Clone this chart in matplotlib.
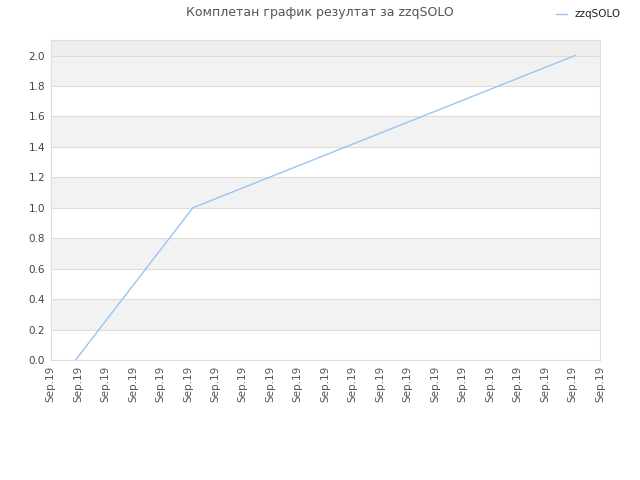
import matplotlib
matplotlib.use("Agg")
import matplotlib.pyplot as plt

title = "Комплетан график резултат за zzqSOLO"
series_name = "zzqSOLO"
x_vals = [0.91, 5.18, 19.09]
y_vals = [0.0, 1.0, 2.0]
x_ticks = list(range(21))
x_labels = ["Sep.19"] * 21
y_ticks = [0.0, 0.2, 0.4, 0.6, 0.8, 1.0, 1.2, 1.4, 1.6, 1.8, 2.0]

fig = plt.figure(figsize=(6.4, 4.8), dpi=100)
ax = fig.add_axes([0.079, 0.25, 0.8585, 0.666])
ax.set_xlim(0, 20)
ax.set_ylim(0, 2.1)

# alternating bands
for i in range(len(y_ticks) - 1):
    if i % 2 == 1:
        ax.axhspan(y_ticks[i], y_ticks[i + 1], color="#f2f2f2", zorder=0, lw=0)
ax.axhspan(2.0, 2.1, color="#eeeeee", zorder=0, lw=0)
for yv in y_ticks:
    ax.axhline(yv, color="#dddddd", lw=0.8, zorder=1)

ax.plot(x_vals, y_vals, color="#99c5f2", lw=1.0, zorder=3, label=series_name)

ax.set_xticks(x_ticks)
ax.set_xticklabels(x_labels, rotation=90, fontsize=7.5, color="#555555")
ax.set_yticks(y_ticks)
ax.set_yticklabels([f"{v:.1f}" for v in y_ticks], fontsize=7.5, color="#444444")
ax.tick_params(length=0, pad=4)
for s in ax.spines.values():
    s.set_color("#dddddd")
    s.set_linewidth(0.8)

fig.text(0.5, 0.987, title, ha="center", va="top", fontsize=9, color="#555555")
fig.legend(loc="upper right", bbox_to_anchor=(0.985, 1.0), frameon=False,
           fontsize=7.5, handlelength=1.0, handletextpad=0.8, labelcolor="#222222")

fig.savefig("out.png", dpi=100)
